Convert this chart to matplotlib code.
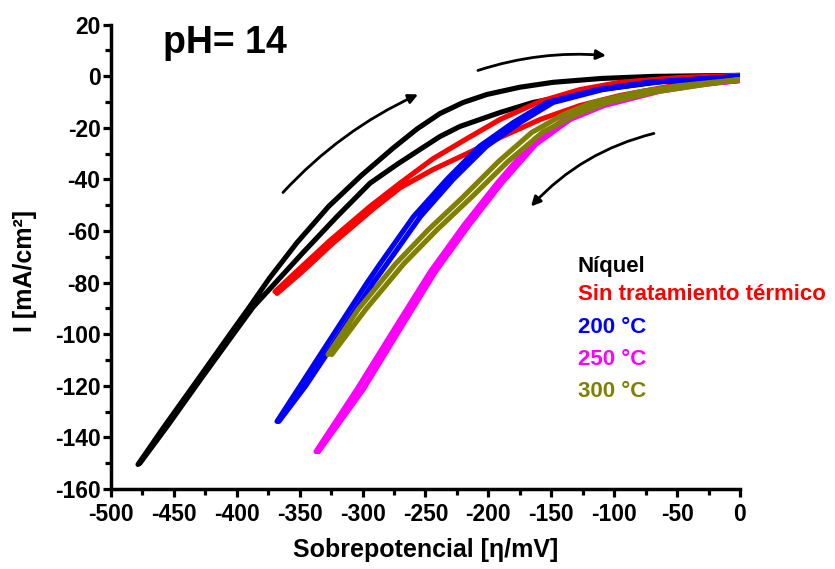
import matplotlib
matplotlib.use("Agg")
import matplotlib.pyplot as plt
from matplotlib.ticker import MultipleLocator

plt.rcParams['font.family'] = ['Liberation Sans', 'DejaVu Sans']
plt.rcParams['font.weight'] = 'bold'
plt.rcParams['axes.unicode_minus'] = False

# ---- data: each loop = branch A + branch B (cyclic sweep) ----
niquel_xa = [-478.5, -458.7, -431.6, -405.4, -390.0, -374.0, -352.1, -327.0, -301.0, -276.0, -256.8, -238.5, -220.0, -201.1, -175.0, -148.6, -110.0, -69.1, 0.0]
niquel_ya = [-150.5, -136.5, -118.0, -100.0, -89.5, -78.3, -64.5, -50.5, -38.5, -28.0, -20.5, -14.5, -10.2, -7.1, -4.3, -2.4, -0.9, -0.1, 0.3]
niquel_xb = [-477.0, -455.0, -428.0, -402.0, -387.0, -371.0, -347.4, -320.3, -294.1, -272.0, -238.5, -222.6, -190.8, -164.5, -111.3, -60.0, 0.0]
niquel_yb = [-150.0, -135.5, -117.0, -99.5, -89.5, -81.0, -68.4, -54.4, -41.5, -34.0, -23.4, -19.5, -14.1, -10.2, -5.2, -2.0, -0.1]

sin_xa = [-369.6, -349.8, -325.9, -294.1, -270.3, -244.0, -217.0, -190.8, -158.9, -127.2, -95.4, -47.7, 0.0]
sin_ya = [-83.5, -74.5, -63.7, -50.5, -41.5, -32.0, -24.2, -16.8, -9.8, -5.2, -2.4, -0.5, 0.3]
sin_xb = [-368.0, -347.8, -323.9, -292.1, -270.3, -244.0, -217.0, -190.8, -158.9, -127.2, -95.4, -47.7, 0.0]
sin_yb = [-84.2, -75.7, -64.9, -51.7, -43.3, -36.2, -30.0, -23.8, -16.8, -11.4, -7.5, -3.2, -0.1]

t200_y = [-133.8, -119.9, -104.1, -92.1, -80.1, -73.0, -54.4, -40.0, -27.2, -17.9, -10.2, -5.2, -2.4, -0.1]
t200_xa = [-368.0, -349.5, -328.5, -312.5, -296.5, -286.5, -259.5, -233.0, -207.0, -180.0, -153.5, -113.5, -73.0, 0.0]
t200_xb = [-366.5, -345.0, -323.5, -307.5, -291.5, -281.0, -254.0, -228.0, -201.5, -174.5, -148.5, -109.0, -70.0, 0.0]

t250_y = [-145.5, -121.4, -96.3, -75.7, -57.5, -41.2, -26.5, -16.8, -11.4, -5.9, -3.2, -1.7]
t250_xa = [-337.0, -304.5, -272.5, -246.0, -219.0, -192.5, -166.5, -140.0, -114.5, -71.0, -35.0, 0.0]
t250_xb = [-335.0, -299.5, -268.0, -242.0, -215.0, -189.0, -162.5, -135.0, -108.0, -64.0, -28.5, 0.0]

t300_y = [-107.9, -90.4, -72.6, -59.4, -47.0, -33.1, -21.8, -14.8, -10.2, -5.9, -3.6, -1.3]
t300_xa = [-327.5, -303.5, -273.5, -247.5, -220.5, -192.0, -165.5, -140.0, -117.0, -78.0, -46.0, 0.0]
t300_xb = [-324.5, -297.5, -267.0, -240.5, -213.5, -184.5, -157.0, -130.0, -105.5, -65.0, -33.0, 0.0]

labels = ["Níquel", "Sin tratamiento térmico", "200 °C", "250 °C", "300 °C"]
colors = ["#000000", "#FF0000", "#0000FF", "#FF00FF", "#808000"]

x_ticks = [-500, -450, -400, -350, -300, -250, -200, -150, -100, -50, 0]
y_ticks = [20, 0, -20, -40, -60, -80, -100, -120, -140, -160]

series = [
    (niquel_xa, niquel_ya, niquel_xb, niquel_yb),
    (sin_xa, sin_ya, sin_xb, sin_yb),
    (t200_xa, t200_y, t200_xb, t200_y),
    (t250_xa, t250_y, t250_xb, t250_y),
    (t300_xa, t300_y, t300_xb, t300_y),
]

fig = plt.figure(figsize=(8.35, 5.69), dpi=100)
ax = fig.add_axes([0.1329, 0.1406, 0.7533, 0.8163])

for (xa, ya, xb, yb), c in zip(series, colors):
    xs = list(xa) + list(xb)[::-1]
    ys = list(ya) + list(yb)[::-1]
    ax.plot(xs, ys, color=c, lw=3.7, solid_joinstyle='round', solid_capstyle='round')

ax.set_xlim(-500, 0)
ax.set_ylim(-160, 20)
ax.set_xticks(x_ticks)
ax.set_yticks(y_ticks)
ax.xaxis.set_minor_locator(MultipleLocator(25))
ax.yaxis.set_minor_locator(MultipleLocator(10))

for s in ['top', 'right']:
    ax.spines[s].set_visible(False)
for s in ['left', 'bottom']:
    ax.spines[s].set_linewidth(2.5)

ax.tick_params(which='major', direction='out', length=6, width=2.3, labelsize=16.5)
ax.tick_params(which='minor', direction='out', length=4, width=2.3)
ax.tick_params(axis='x', which='major', pad=4)
ax.tick_params(axis='y', which='major', pad=1.5)
for lab in ax.get_xticklabels() + ax.get_yticklabels():
    lab.set_fontweight('bold')

ax.set_xlabel("Sobrepotencial [η/mV]", fontsize=18, fontweight='bold')
ax.set_ylabel("I [mA/cm²]", fontsize=18, fontweight='bold')
ax.xaxis.set_label_coords(0.5, -0.105)
ax.yaxis.set_label_coords(-0.118, 0.47)

ax.text(0.083, 0.9387, "pH= 14", transform=ax.transAxes, fontsize=27,
        fontweight='bold', va='baseline', ha='left')

leg_y = [0.467, 0.407, 0.336, 0.267, 0.198]
for lab, c, yy in zip(labels, colors, leg_y):
    ax.text(0.742, yy, lab, color=c, transform=ax.transAxes, fontsize=16,
            fontweight='bold', va='baseline', ha='left')

arrow_kw = dict(arrowstyle='-|>', color='k', lw=2.0, mutation_scale=14,
                shrinkA=0, shrinkB=0)
ax.annotate("", xy=(-255.9, -7.1), xytext=(-363.3, -45.1),
            arrowprops=dict(connectionstyle='arc3,rad=-0.1', **arrow_kw))
ax.annotate("", xy=(-106.5, 8.0), xytext=(-208.3, 2.2),
            arrowprops=dict(connectionstyle='arc3,rad=-0.1', **arrow_kw))
ax.annotate("", xy=(-166.1, -50.5), xytext=(-68.4, -22.2),
            arrowprops=dict(connectionstyle='arc3,rad=0.15', **arrow_kw))

fig.savefig("out.png", dpi=100)
